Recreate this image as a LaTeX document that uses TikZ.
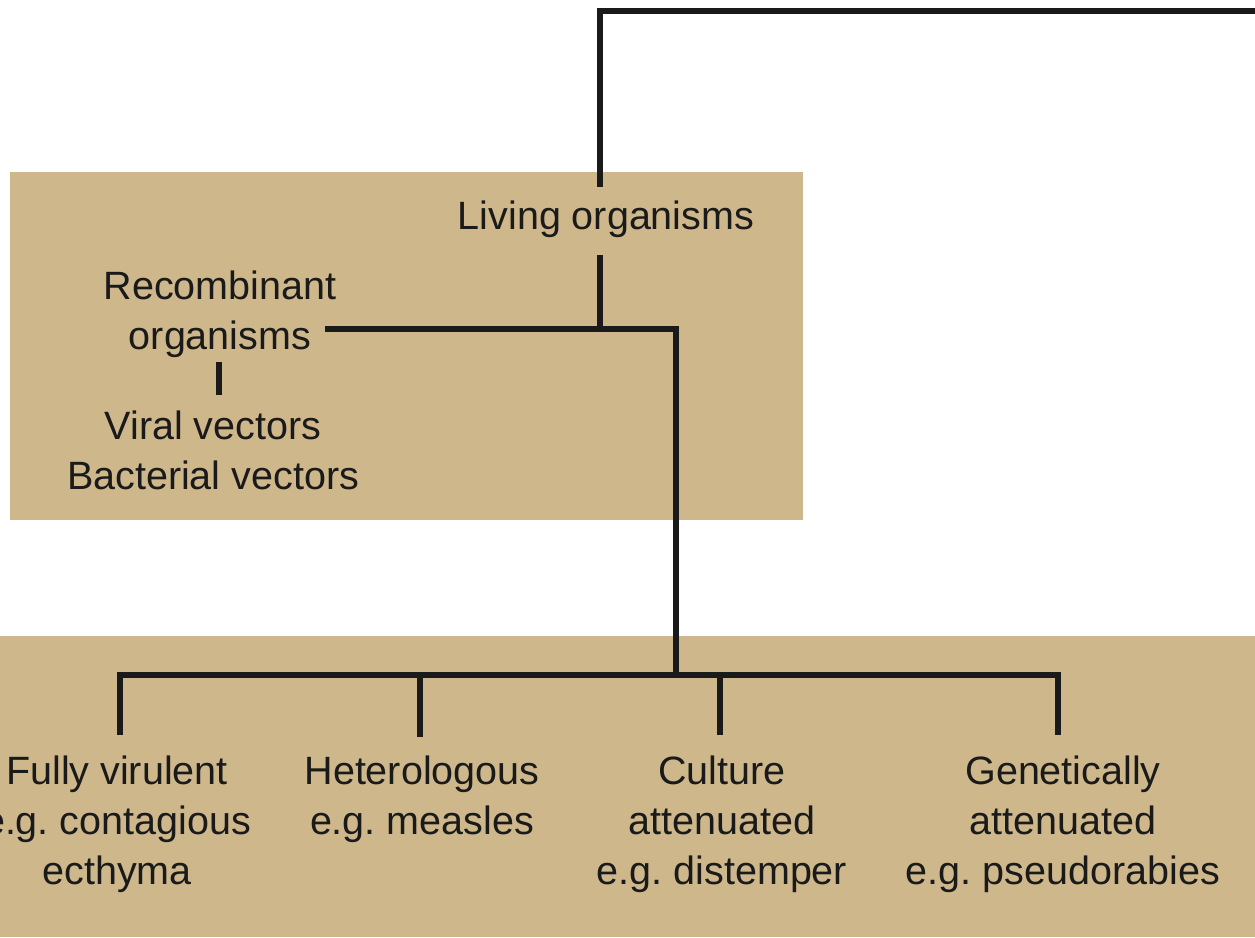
\documentclass[tikz,border=0pt]{standalone}
\usepackage{fontspec}
\setmainfont{Liberation Sans}
\frenchspacing
\definecolor{tan}{RGB}{205,183,139}
\definecolor{ink}{RGB}{26,26,26}
\begin{document}
\begin{tikzpicture}[x=1pt,y=-1pt,
  conn/.style={draw=ink,line width=5.5pt},
  lbl/.style={inner sep=0pt,align=center,font=\fontsize{39.5}{50}\selectfont,text=ink},
  panel/.style={fill=tan,draw=none}]
\useasboundingbox (0,0) rectangle (1255,937);
% panels
\path[panel] (10,172) rectangle (803,520);
\path[panel] (0,636) rectangle (1255,937);
% labels
\node[lbl] (living) at (606,219) {Living organisms};
\node[lbl] (recomb) at (220,314.5) {Recombinant\\organisms};
\node[lbl] (vectors) at (213,450) {Viral vectors\\Bacterial vectors};
\node[lbl] (fully) at (117,824) {Fully virulent\\e.g. contagious\\ecthyma};
\node[lbl] (hetero) at (422,799) {Heterologous\\e.g. measles};
\node[lbl] (culture) at (722,824) {Culture\\attenuated\\e.g. distemper};
\node[lbl] (genet) at (1063,824) {Genetically\\attenuated\\e.g. pseudorabies};
% connector points
\coordinate (topR) at (1255,11);
\coordinate (topL) at (600,11);
\coordinate (livIn) at (600,187);
\coordinate (livOut) at (600,255);
\coordinate (j1) at (600,329);
\coordinate (recR) at (325,329);
\coordinate (bend) at (676,329);
\coordinate (j2) at (676,675);
\coordinate (recOut) at (219,362);
\coordinate (vecIn) at (219,395);
\coordinate (bL) at (120,675);
\coordinate (bR) at (1058,675);
\coordinate (fullyIn) at (120,735);
\coordinate (hetIn) at (420,737);
\coordinate (culIn) at (720,735);
\coordinate (genIn) at (1058,735);
\coordinate (hetTop) at (420,675);
\coordinate (culTop) at (720,675);
% connectors
\draw[conn] (topR) -- (topL) -- (livIn);
\draw[conn] (livOut) -- (j1);
\draw[conn] (recR) -- (bend) -- (j2);
\draw[conn] (recOut) -- (vecIn);
\draw[conn] (fullyIn) -- (bL) -- (bR) -- (genIn);
\draw[conn] (hetTop) -- (hetIn);
\draw[conn] (culTop) -- (culIn);
\end{tikzpicture}
\end{document}
